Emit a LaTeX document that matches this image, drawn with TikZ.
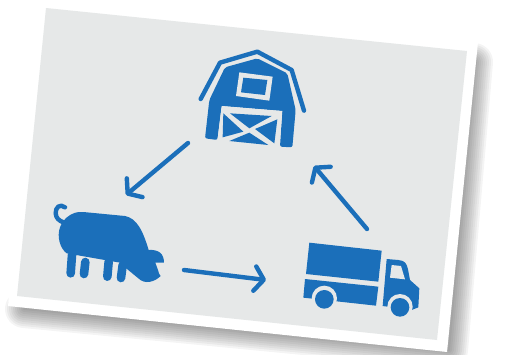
\documentclass[tikz,border=0pt]{standalone}
\usepackage{xcolor}
\usetikzlibrary{arrows.meta}
\definecolor{iconblue}{HTML}{1B6FBA}
\definecolor{cardgray}{HTML}{E6E8E8}
\tikzset{
  cardface/.style={fill=cardgray,draw=none},
  iconfill/.style={fill=iconblue,draw=none},
  iconcut/.style={fill=cardgray,draw=none},
  iconline/.style={draw=iconblue,line cap=round,line join=round},
  flowarrow/.style={-{Straight Barb[length=3.2mm,width=8.6mm,round]},line width=4.4pt,draw=iconblue,line cap=round},
  zoomed/.style={shift={#1},scale=1/3}
}
\begin{document}
\begin{tikzpicture}[x=1pt,y=-1pt]
\useasboundingbox (0,0) rectangle (506,354);
\clip (0,0) rectangle (506,354);
% shadow
\foreach \w in {38,34,...,2}{
  \draw[black,opacity=0.045,line width=\w pt,line cap=round,line join=round]
    (474,62) -- (449,350) -- (24,309);
}
% card
\fill[white] (38,-2) -- (478,42) -- (447,352) -- (8,306) -- cycle;
\fill[cardface] (46,8) -- (467,51) -- (437,340) -- (17,296) -- cycle;
% barn
\begin{scope}[zoomed={(180,30)}]
\fill[iconfill,rounded corners=2pt] (88,210) -- (135,112) -- (232,85) -- (322,130) -- (347,240) -- (337,352) -- (300,350) -- (307,243) -- (125,228) -- (112,330) -- (75,325) -- cycle;
\draw[iconline,line width=4.4pt] (62,207) -- (120,98) -- (232,65) -- (335,120) -- (372,242);
\fill[iconcut] (125,228) -- (307,243) -- (298,350) -- (112,335) -- cycle;
\fill[iconfill] (150,250) -- (275,258) -- (208,295) -- cycle;
\fill[iconfill] (130,250) -- (190,305) -- (128,322) -- cycle;
\fill[iconfill] (148,333) -- (265,345) -- (208,308) -- cycle;
\fill[iconfill] (292,268) -- (283,340) -- (225,297) -- cycle;
\fill[iconcut] (178,127) -- (278,140) -- (268,212) -- (168,198) -- cycle;
\fill[iconfill] (190,143) -- (262,150) -- (255,195) -- (183,187) -- cycle;
\end{scope}
% pig
\begin{scope}[zoomed={(30,190)}]
\draw[iconline,line width=4.4pt] (105,52) .. controls (90,40) and (76,52) .. (77,70) .. controls (78,85) and (88,92) .. (98,96);
\fill[iconfill] (108,84) .. controls (125,70) and (140,64) .. (160,66) -- (285,78)
  .. controls (320,85) and (338,120) .. (356,180) .. controls (385,178) and (402,190) .. (402,218)
  -- (376,218) -- (384,240) .. controls (386,250) and (388,254) .. (392,258)
  .. controls (375,275) and (345,285) .. (325,265) -- (285,232) -- (270,218) -- (110,190)
  .. controls (90,175) and (80,140) .. (90,112) .. controls (95,100) and (100,92) .. (108,84) -- cycle;
\draw[iconline,line width=8.6pt] (126,195) -- (122,250);
\draw[iconline,line width=8.6pt] (166,216) -- (162,252);
\draw[iconline,line width=8.6pt] (236,215) -- (232,260);
\draw[iconline,line width=8.6pt] (278,225) -- (273,264);
\end{scope}
% truck
\begin{scope}[zoomed={(290,230)}]
\fill[iconfill] (58,38) -- (275,62) -- (265,155) -- (48,132) -- cycle;
\fill[iconfill] (45,147) -- (265,170) -- (258,227) -- (40,203) -- cycle;
\fill[iconfill] (290,87) -- (325,90) .. controls (345,92) and (350,100) .. (354,118) -- (360,150) -- (388,175) -- (385,232) -- (365,240) -- (278,228) -- cycle;
\fill[iconcut] (305,105) -- (333,108) -- (345,148) -- (300,143) -- cycle;
\fill[iconcut] (103,205) circle[radius=38];
\fill[iconcut] (330,230) circle[radius=38];
\fill[iconfill] (103,208) circle[radius=28];
\fill[iconfill] (330,232) circle[radius=28];
\end{scope}
% arrows
\coordinate (barnout) at (188,143);
\coordinate (pigin) at (126,195);
\coordinate (pigout) at (184,270);
\coordinate (truckin) at (266,280);
\coordinate (truckout) at (367,229);
\coordinate (barnin) at (314,166);
\draw[flowarrow] (barnout) -- (pigin);
\draw[flowarrow] (pigout) -- (truckin);
\draw[flowarrow] (truckout) -- (barnin);
\end{tikzpicture}
\end{document}
